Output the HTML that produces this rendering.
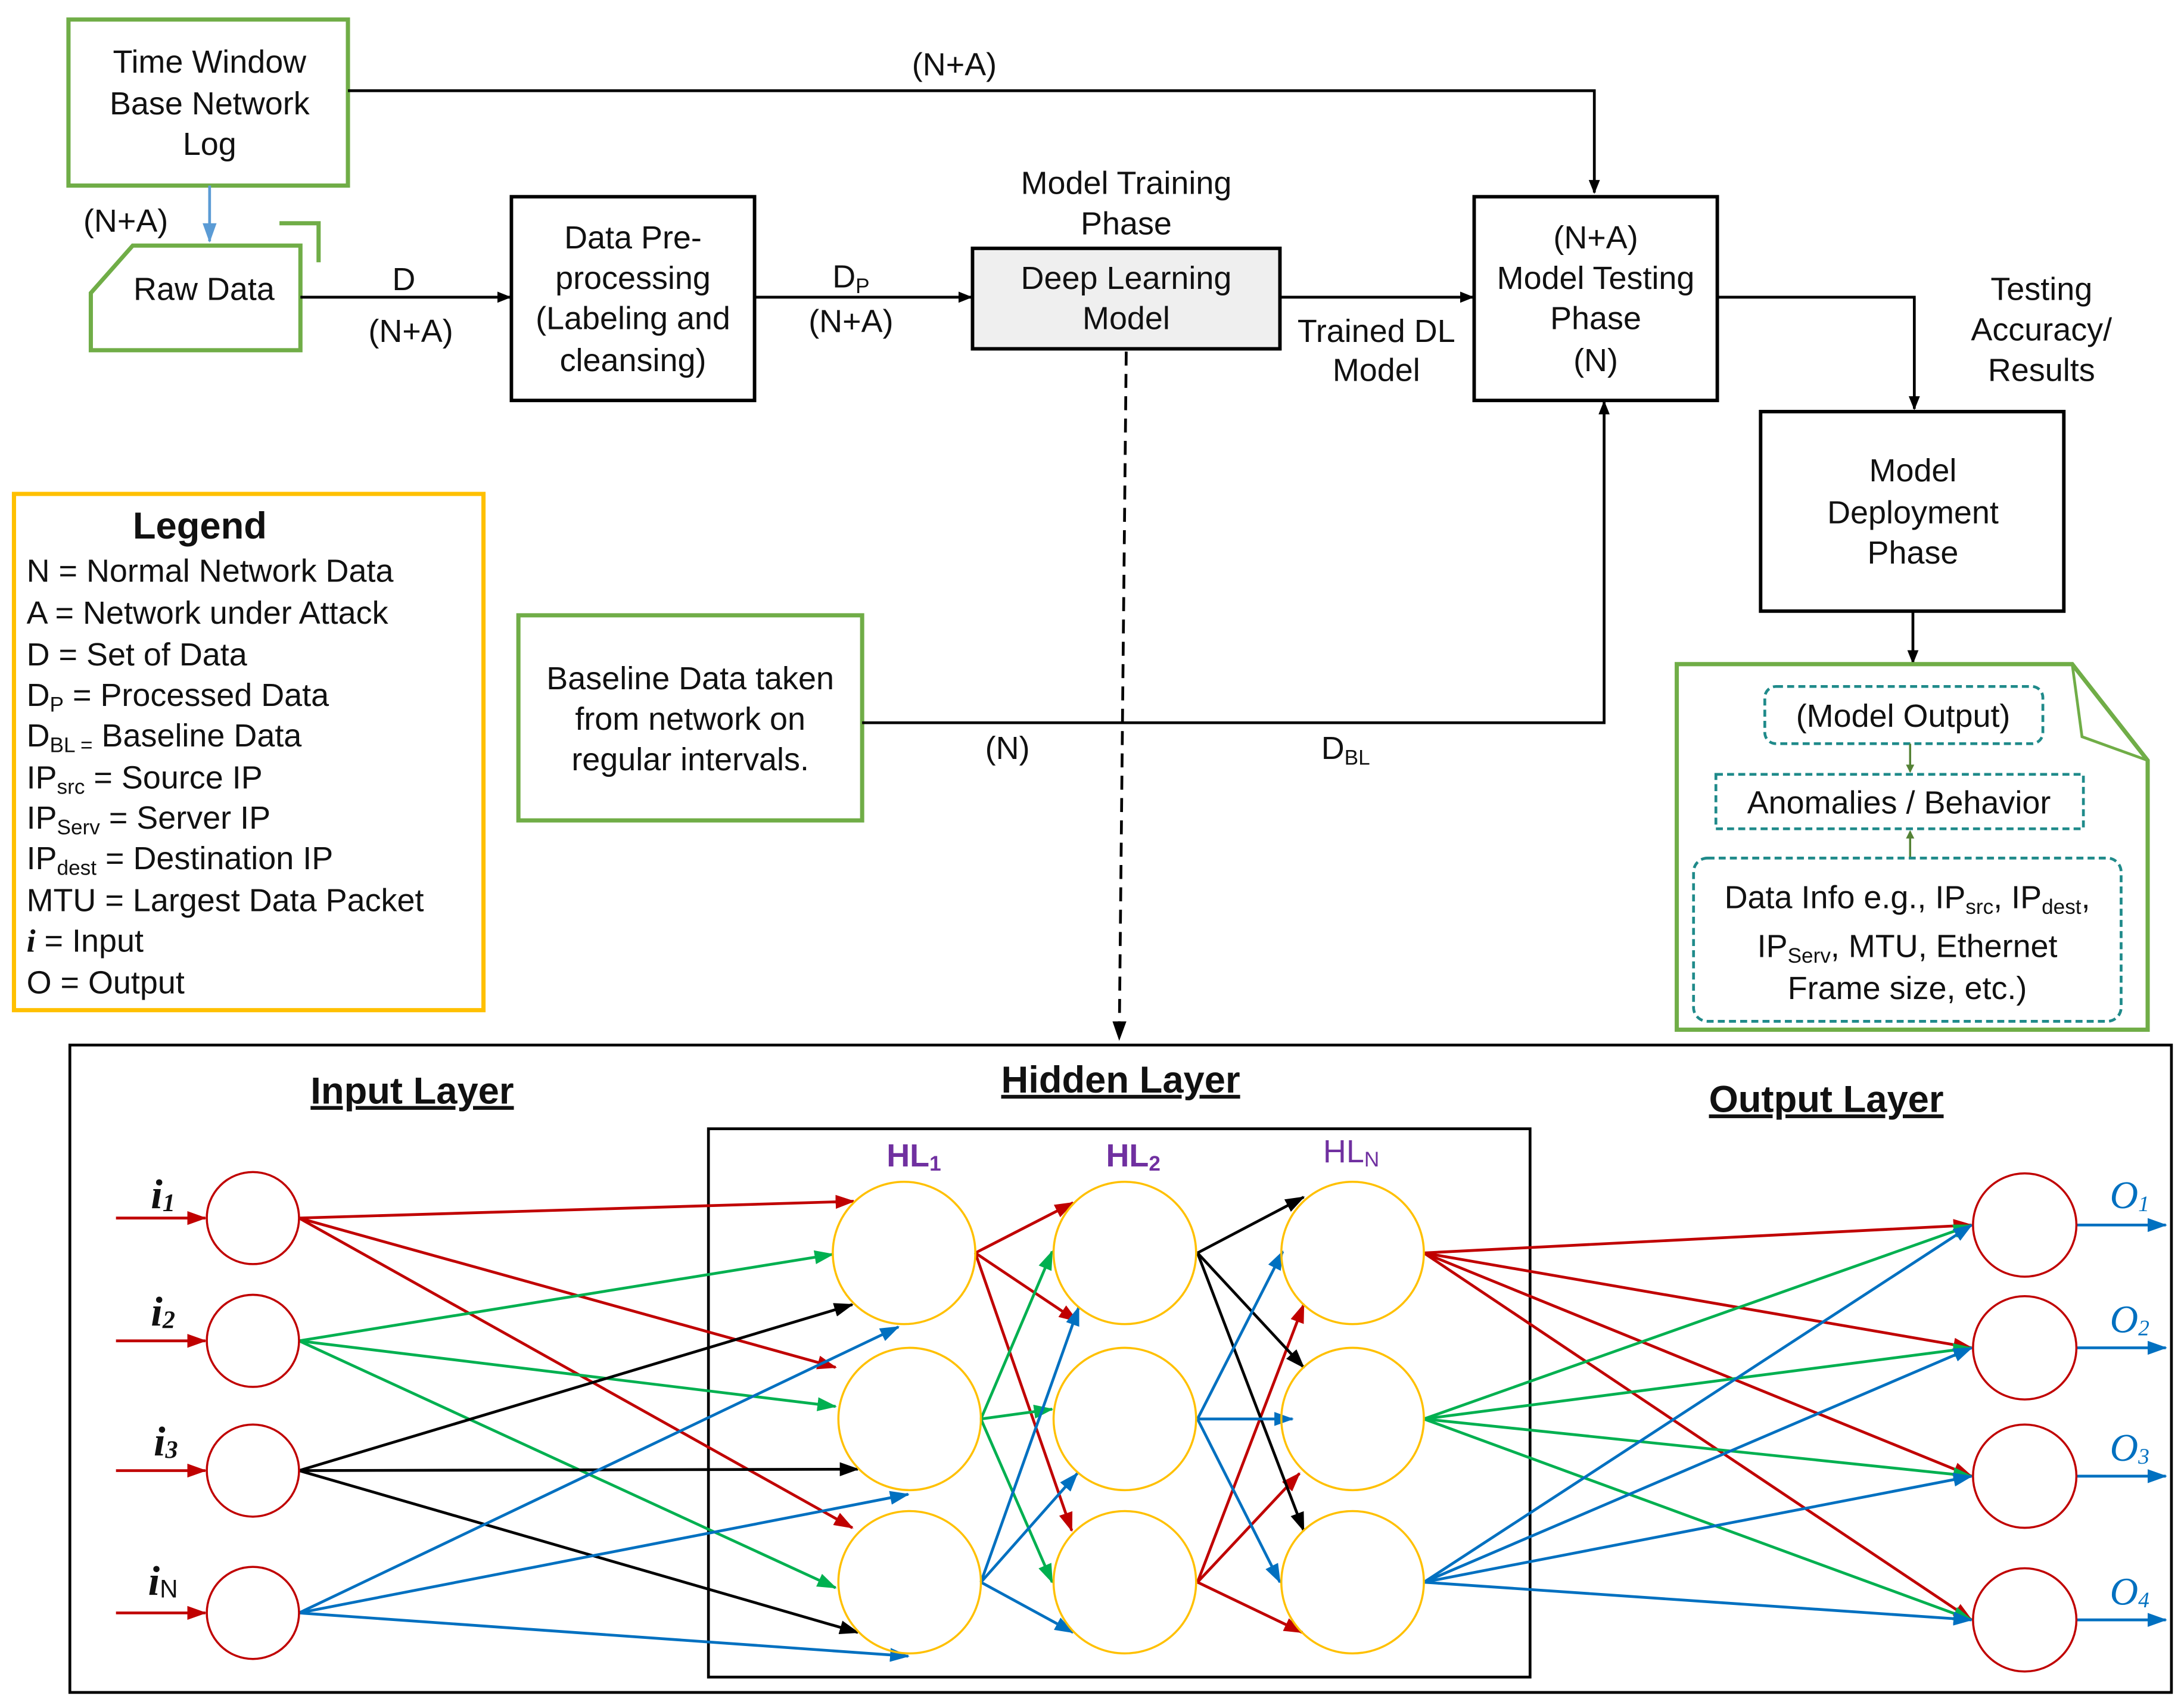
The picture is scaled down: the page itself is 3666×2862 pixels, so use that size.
<!DOCTYPE html>
<html><head><meta charset="utf-8"><style>
html,body{margin:0;padding:0;background:#fff}
svg{display:block}
text{font-family:"Liberation Sans",sans-serif;font-size:23px;fill:#111}
.m{text-anchor:middle}
.b{font-weight:bold}
</style></head><body>
<svg width="3666" height="2862" viewBox="0 0 1563 1222" preserveAspectRatio="none" xmlns="http://www.w3.org/2000/svg">
<defs>
<marker id="ak" markerWidth="10" markerHeight="8" refX="9" refY="4" orient="auto" markerUnits="userSpaceOnUse"><path d="M0,0L10,4L0,8z" fill="#000"/></marker>
<marker id="ar" markerWidth="14" markerHeight="10" refX="13" refY="5" orient="auto" markerUnits="userSpaceOnUse"><path d="M0,0L14,5L0,10z" fill="#C00000"/></marker>
<marker id="ag" markerWidth="14" markerHeight="10" refX="13" refY="5" orient="auto" markerUnits="userSpaceOnUse"><path d="M0,0L14,5L0,10z" fill="#00B050"/></marker>
<marker id="ab" markerWidth="14" markerHeight="10" refX="13" refY="5" orient="auto" markerUnits="userSpaceOnUse"><path d="M0,0L14,5L0,10z" fill="#0070C0"/></marker>
<marker id="ab2" markerWidth="14" markerHeight="10" refX="13" refY="5" orient="auto" markerUnits="userSpaceOnUse"><path d="M0,0L14,5L0,10z" fill="#5B9BD5"/></marker>
<marker id="ak2" markerWidth="14" markerHeight="10" refX="13" refY="5" orient="auto" markerUnits="userSpaceOnUse"><path d="M0,0L14,5L0,10z" fill="#000"/></marker>
<marker id="asg" markerWidth="6" markerHeight="6" refX="5" refY="3" orient="auto" markerUnits="userSpaceOnUse"><path d="M0,0L6,3L0,6z" fill="#548235"/></marker>
</defs>

<rect x="49" y="14" width="200" height="119" fill="none" stroke="#70AD47" stroke-width="3"/>
<text class="m" x="150" y="52">Time Window</text>
<text class="m" x="150" y="82">Base Network</text>
<text class="m" x="150" y="111">Log</text>
<text class="m" x="683" y="54">(N+A)</text>
<polyline points="249,65 1141,65 1141,138" fill="none" stroke="#000" stroke-width="2" marker-end="url(#ak)"/>
<line x1="150" y1="133" x2="150" y2="173" stroke="#5B9BD5" stroke-width="2" marker-end="url(#ab2)"/>
<text class="m" x="90" y="166">(N+A)</text>
<polygon points="65,210 95,176 215,176 215,251 65,251" fill="none" stroke="#70AD47" stroke-width="3"/>
<polyline points="200,160 228,160 228,188" fill="none" stroke="#70AD47" stroke-width="3"/>
<text class="m" x="146" y="215">Raw Data</text>
<line x1="215" y1="213" x2="365" y2="213" stroke="#000" stroke-width="2" marker-end="url(#ak)"/>
<text class="m" x="289" y="208">D</text>
<text class="m" x="294" y="245">(N+A)</text>
<rect x="366" y="141" width="174" height="146" fill="none" stroke="#000" stroke-width="2.5"/>
<text class="m" x="453" y="178">Data Pre-</text>
<text class="m" x="453" y="207">processing</text>
<text class="m" x="453" y="236">(Labeling and</text>
<text class="m" x="453" y="266">cleansing)</text>
<line x1="540" y1="213" x2="695" y2="213" stroke="#000" stroke-width="2" marker-end="url(#ak)"/>
<text class="m" x="609" y="206">D<tspan font-size="15" dy="4">P</tspan></text>
<text class="m" x="609" y="238">(N+A)</text>
<text class="m" x="806" y="139">Model Training</text>
<text class="m" x="806" y="168">Phase</text>
<rect x="696" y="178" width="220" height="72" fill="#EFEFEF" stroke="#000" stroke-width="2.5"/>
<text class="m" x="806" y="207">Deep Learning</text>
<text class="m" x="806" y="236">Model</text>
<line x1="916" y1="213" x2="1054" y2="213" stroke="#000" stroke-width="2" marker-end="url(#ak)"/>
<text class="m" x="985" y="245">Trained DL</text>
<text class="m" x="985" y="273">Model</text>
<rect x="1055" y="141" width="174" height="146" fill="none" stroke="#000" stroke-width="2.5"/>
<text class="m" x="1142" y="178">(N+A)</text>
<text class="m" x="1142" y="207">Model Testing</text>
<text class="m" x="1142" y="236">Phase</text>
<text class="m" x="1142" y="266">(N)</text>
<polyline points="1229,213 1370,213 1370,293" fill="none" stroke="#000" stroke-width="2" marker-end="url(#ak)"/>
<text class="m" x="1461" y="215">Testing</text>
<text class="m" x="1461" y="244">Accuracy/</text>
<text class="m" x="1461" y="273">Results</text>
<rect x="1260" y="295" width="217" height="143" fill="none" stroke="#000" stroke-width="2.5"/>
<text class="m" x="1369" y="345">Model</text>
<text class="m" x="1369" y="375">Deployment</text>
<text class="m" x="1369" y="404">Phase</text>
<line x1="1369" y1="438" x2="1369" y2="475" stroke="#000" stroke-width="2" marker-end="url(#ak)"/>
<polygon points="1200,476 1483,476 1537,545 1537,738 1200,738" fill="none" stroke="#70AD47" stroke-width="3"/>
<polyline points="1483,476 1490,528 1537,545" fill="none" stroke="#70AD47" stroke-width="2"/>
<rect x="1263" y="492" width="199" height="41" rx="8" fill="none" stroke="#1F8A8A" stroke-width="2" stroke-dasharray="5,3"/>
<text class="m" x="1362" y="521">(Model Output)</text>
<line x1="1367" y1="533" x2="1367" y2="553" stroke="#548235" stroke-width="1.5" marker-end="url(#asg)"/>
<rect x="1228" y="555" width="263" height="39" fill="none" stroke="#1F8A8A" stroke-width="2" stroke-dasharray="5,3"/>
<text class="m" x="1359" y="583">Anomalies / Behavior</text>
<line x1="1367" y1="615" x2="1367" y2="596" stroke="#548235" stroke-width="1.5" marker-end="url(#asg)"/>
<rect x="1212" y="615" width="306" height="117" rx="10" fill="none" stroke="#1F8A8A" stroke-width="2" stroke-dasharray="5,3"/>
<text class="m" x="1365" y="651">Data Info e.g., IP<tspan font-size="15" dy="4">src</tspan><tspan dy="-4">, IP</tspan><tspan font-size="15" dy="4">dest</tspan><tspan dy="-4">,</tspan></text>
<text class="m" x="1365" y="686">IP<tspan font-size="15" dy="4">Serv</tspan><tspan dy="-4">, MTU, Ethernet</tspan></text>
<text class="m" x="1365" y="716">Frame size, etc.)</text>

<rect x="10" y="354" width="336" height="370" fill="none" stroke="#FFC000" stroke-width="3"/>
<text class="m b" x="143" y="386" style="font-size:27px">Legend</text>
<text x="19" y="417">N = Normal Network Data</text>
<text x="19" y="447">A = Network under Attack</text>
<text x="19" y="477">D = Set of Data</text>
<text x="19" y="506">D<tspan font-size="15" dy="4">P</tspan><tspan dy="-4"> = Processed Data</tspan></text>
<text x="19" y="535">D<tspan font-size="15" dy="4">BL =</tspan><tspan dy="-4"> Baseline Data</tspan></text>
<text x="19" y="565">IP<tspan font-size="15" dy="4">src</tspan><tspan dy="-4"> = Source IP</tspan></text>
<text x="19" y="594">IP<tspan font-size="15" dy="4">Serv</tspan><tspan dy="-4"> = Server IP</tspan></text>
<text x="19" y="623">IP<tspan font-size="15" dy="4">dest</tspan><tspan dy="-4"> = Destination IP</tspan></text>
<text x="19" y="653">MTU = Largest Data Packet</text>
<text x="19" y="682"><tspan font-style="italic" font-weight="bold" font-family="Liberation Serif">i</tspan> = Input</text>
<text x="19" y="712">O = Output</text>

<rect x="371" y="441" width="246" height="147" fill="none" stroke="#70AD47" stroke-width="3"/>
<text class="m" x="494" y="494">Baseline Data taken</text>
<text class="m" x="494" y="523">from network on</text>
<text class="m" x="494" y="552">regular intervals.</text>
<polyline points="617,518 1148,518 1148,288" fill="none" stroke="#000" stroke-width="2" marker-end="url(#ak)"/>
<text class="m" x="721" y="544">(N)</text>
<text class="m" x="963" y="544">D<tspan font-size="15" dy="4">BL</tspan></text>
<line x1="806" y1="252" x2="801" y2="745" stroke="#000" stroke-width="2" stroke-dasharray="10,6" marker-end="url(#ak2)"/>

<rect x="50" y="749" width="1504" height="464" fill="none" stroke="#000" stroke-width="2"/>
<rect x="507" y="809" width="588" height="393" fill="none" stroke="#000" stroke-width="2"/>
<text class="m b" x="295" y="791" style="font-size:27px;text-decoration:underline">Input Layer</text>
<text class="m b" x="802" y="783" style="font-size:27px;text-decoration:underline">Hidden Layer</text>
<text class="m b" x="1307" y="797" style="font-size:27px;text-decoration:underline">Output Layer</text>
<text class="m b" x="654" y="836" style="fill:#7030A0">HL<tspan font-size="15" dy="3">1</tspan></text>
<text class="m b" x="811" y="836" style="fill:#7030A0">HL<tspan font-size="15" dy="3">2</tspan></text>
<text class="m" x="967" y="833" style="fill:#7030A0">HL<tspan font-size="15" dy="3">N</tspan></text>

<g fill="none" stroke-width="2">
<g stroke="#C00000" marker-end="url(#ar)">
<line x1="83" y1="873" x2="147" y2="873"/><line x1="83" y1="961" x2="147" y2="961"/>
<line x1="83" y1="1054" x2="147" y2="1054"/><line x1="83" y1="1156" x2="147" y2="1156"/>
<line x1="214" y1="873" x2="611" y2="861"/><line x1="214" y1="873" x2="598" y2="980"/><line x1="214" y1="873" x2="610" y2="1095"/>
<line x1="698" y1="898" x2="768" y2="862"/><line x1="698" y1="898" x2="771" y2="947"/><line x1="698" y1="898" x2="767" y2="1097"/>
<line x1="857" y1="1134" x2="933" y2="935"/><line x1="857" y1="1134" x2="930" y2="1056"/><line x1="857" y1="1134" x2="932" y2="1170"/>
<line x1="1019" y1="898" x2="1411" y2="878"/><line x1="1019" y1="898" x2="1411" y2="966"/><line x1="1019" y1="898" x2="1411" y2="1058"/><line x1="1019" y1="898" x2="1411" y2="1161"/>
</g>
<g stroke="#00B050" marker-end="url(#ag)">
<line x1="214" y1="961" x2="596" y2="899"/><line x1="214" y1="961" x2="598" y2="1008"/><line x1="214" y1="961" x2="598" y2="1138"/>
<line x1="702" y1="1017" x2="753" y2="897"/><line x1="702" y1="1017" x2="753" y2="1010"/><line x1="702" y1="1017" x2="753" y2="1134"/>
<line x1="1019" y1="1017" x2="1411" y2="878"/><line x1="1019" y1="1017" x2="1411" y2="966"/><line x1="1019" y1="1017" x2="1411" y2="1058"/><line x1="1019" y1="1017" x2="1411" y2="1161"/>
</g>
<g stroke="#000" marker-end="url(#ak2)">
<line x1="214" y1="1054" x2="610" y2="935"/><line x1="214" y1="1054" x2="614" y2="1053"/><line x1="214" y1="1054" x2="614" y2="1170"/>
<line x1="857" y1="898" x2="933" y2="858"/><line x1="857" y1="898" x2="933" y2="980"/><line x1="857" y1="898" x2="933" y2="1097"/>
</g>
<g stroke="#0070C0" marker-end="url(#ab)">
<line x1="214" y1="1156" x2="643" y2="951"/><line x1="214" y1="1156" x2="650" y2="1071"/><line x1="214" y1="1156" x2="650" y2="1187"/>
<line x1="702" y1="1134" x2="772" y2="937"/><line x1="702" y1="1134" x2="771" y2="1056"/><line x1="702" y1="1134" x2="768" y2="1170"/>
<line x1="857" y1="1017" x2="918" y2="897"/><line x1="857" y1="1017" x2="925" y2="1017"/><line x1="857" y1="1017" x2="916" y2="1134"/>
<line x1="1019" y1="1134" x2="1411" y2="878"/><line x1="1019" y1="1134" x2="1411" y2="966"/><line x1="1019" y1="1134" x2="1411" y2="1058"/><line x1="1019" y1="1134" x2="1411" y2="1161"/>
<line x1="1486" y1="878" x2="1550" y2="878"/><line x1="1486" y1="966" x2="1550" y2="966"/><line x1="1486" y1="1058" x2="1550" y2="1058"/><line x1="1486" y1="1161" x2="1550" y2="1161"/>
</g>
</g>
<g fill="none" stroke="#C00000" stroke-width="1.5">
<circle cx="181" cy="873" r="33"/><circle cx="181" cy="961" r="33"/><circle cx="181" cy="1054" r="33"/><circle cx="181" cy="1156" r="33"/>
<circle cx="1449" cy="878" r="37"/><circle cx="1449" cy="966" r="37"/><circle cx="1449" cy="1058" r="37"/><circle cx="1449" cy="1161" r="37"/>
</g>
<g fill="none" stroke="#FFC000" stroke-width="1.5">
<circle cx="647" cy="898" r="51"/><circle cx="651" cy="1017" r="51"/><circle cx="651" cy="1134" r="51"/>
<circle cx="805" cy="898" r="51"/><circle cx="805" cy="1017" r="51"/><circle cx="805" cy="1134" r="51"/>
<circle cx="968" cy="898" r="51"/><circle cx="968" cy="1017" r="51"/><circle cx="968" cy="1134" r="51"/>
</g>
<text x="108" y="866" style="font-family:'Liberation Serif',serif;font-style:italic;font-weight:bold;font-size:30px">i<tspan font-size="18" dy="2">1</tspan></text>
<text x="108" y="950" style="font-family:'Liberation Serif',serif;font-style:italic;font-weight:bold;font-size:30px">i<tspan font-size="18" dy="2">2</tspan></text>
<text x="110" y="1043" style="font-family:'Liberation Serif',serif;font-style:italic;font-weight:bold;font-size:30px">i<tspan font-size="18" dy="2">3</tspan></text>
<text x="106" y="1143" style="font-family:'Liberation Serif',serif;font-style:italic;font-weight:bold;font-size:30px">i<tspan font-size="18" dy="2" font-style="normal" font-family="Liberation Sans" font-weight="normal">N</tspan></text>
<text x="1510" y="866" style="font-family:'Liberation Serif',serif;font-style:italic;font-size:28px;fill:#0070C0">O<tspan font-size="16" dy="2">1</tspan></text>
<text x="1510" y="955" style="font-family:'Liberation Serif',serif;font-style:italic;font-size:28px;fill:#0070C0">O<tspan font-size="16" dy="2">2</tspan></text>
<text x="1510" y="1047" style="font-family:'Liberation Serif',serif;font-style:italic;font-size:28px;fill:#0070C0">O<tspan font-size="16" dy="2">3</tspan></text>
<text x="1510" y="1150" style="font-family:'Liberation Serif',serif;font-style:italic;font-size:28px;fill:#0070C0">O<tspan font-size="16" dy="2">4</tspan></text>
</svg>
</body></html>
